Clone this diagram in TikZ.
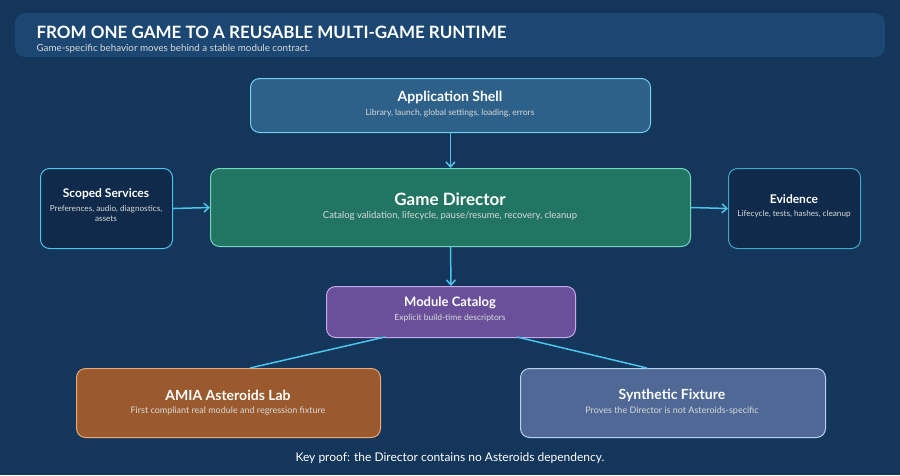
\documentclass[tikz,border=0pt]{standalone}
\usepackage{fontspec}
\setmainfont{Lato}
\usetikzlibrary{arrows.meta}
\definecolor{bg}{HTML}{13365A}
\definecolor{hdr}{HTML}{1B4772}
\definecolor{cy}{HTML}{4FC3EA}
\definecolor{a}{HTML}{2D6189}
\definecolor{dk}{HTML}{0F2A4A}
\definecolor{g}{HTML}{237563}
\definecolor{gl}{HTML}{6FD9C0}
\definecolor{p}{HTML}{6A509A}\definecolor{pl}{HTML}{C8A8E8}
\definecolor{o}{HTML}{9A5A2E}\definecolor{ol}{HTML}{E8A878}
\definecolor{b}{HTML}{4F6896}\definecolor{bl}{HTML}{B8D0F0}
\tikzset{
 box/.style={draw, line width=1pt, rounded corners=9pt, anchor=north west, inner sep=0pt},
 t/.style={text=white, font=\bfseries},
 s/.style={text=white!85!black},
 arr/.style={draw=cy, line width=1.5pt, -{Straight Barb[length=5pt,width=9pt]}},
 ln/.style={draw=cy, line width=1.5pt}
}
\begin{document}
\begin{tikzpicture}[x=1pt,y=-1pt]
\fill[bg] (0,0) rectangle (900,475);
\useasboundingbox (0,0) rectangle (900,475);
\fill[hdr, rounded corners=10pt] (15,13) rectangle (885,57);
\node[anchor=west, text=white, font=\bfseries\fontsize{17}{18}\selectfont] (title) at (33,32) {FROM ONE GAME TO A REUSABLE MULTI-GAME RUNTIME};
\node[anchor=west, s, font=\fontsize{9.8}{11}\selectfont] (sub) at (33,49) {Game-specific behavior moves behind a stable module contract.};

\node[box, fill=a, draw=cy!80!white, minimum width=400pt, minimum height=54pt] (app) at (250,78) {};
\node[t, font=\bfseries\fontsize{14}{15}\selectfont] (appt) at (450,97) {Application Shell};
\node[s, font=\fontsize{8.5}{10}\selectfont] (apps) at (450,113) {Library, launch, global settings, loading, errors};

\node[box, fill=dk, draw=cy, minimum width=132pt, minimum height=80pt] (sc) at (40,168) {};
\node[t, font=\bfseries\fontsize{12}{13}\selectfont] (sct) at (106,194) {Scoped Services};
\node[s, font=\fontsize{8.2}{10}\selectfont, align=center] (scs) at (106,214) {Preferences, audio, diagnostics,\\assets};

\node[box, fill=g, draw=gl, minimum width=480pt, minimum height=78pt] (gd) at (210,168) {};
\node[t, font=\bfseries\fontsize{17}{18}\selectfont] (gdt) at (450,199) {Game Director};
\node[s, font=\fontsize{9.5}{11}\selectfont] (gds) at (450,216) {Catalog validation, lifecycle, pause/resume, recovery, cleanup};

\node[box, fill=dk, draw=cy!85!black, minimum width=132pt, minimum height=80pt] (ev) at (728,168) {};
\node[t, font=\bfseries\fontsize{12}{13}\selectfont] (evt) at (794,199) {Evidence};
\node[s, font=\fontsize{8.2}{10}\selectfont] (evs) at (794,214) {Lifecycle, tests, hashes, cleanup};

\node[box, fill=p, draw=pl, minimum width=249pt, minimum height=51pt] (mc) at (326,286) {};
\node[t, font=\bfseries\fontsize{13}{14}\selectfont] (mct) at (450,303) {Module Catalog};
\node[s, font=\fontsize{8.5}{10}\selectfont] (mcs) at (450,318) {Explicit build-time descriptors};

\node[box, fill=o, draw=ol, minimum width=304pt, minimum height=69pt] (am) at (76,368) {};
\node[t, font=\bfseries\fontsize{14}{15}\selectfont] (amt) at (228,395) {AMIA Asteroids Lab};
\node[s, font=\fontsize{9}{10}\selectfont] (ams) at (228,411) {First compliant real module and regression fixture};

\node[box, fill=b, draw=bl, minimum width=305pt, minimum height=69pt] (sf) at (520,368) {};
\node[t, font=\bfseries\fontsize{14}{15}\selectfont] (sft) at (672,395) {Synthetic Fixture};
\node[s, font=\fontsize{9}{10}\selectfont] (sfs) at (672,411) {Proves the Director is not Asteroids-specific};

\node[text=white, font=\fontsize{12}{13}\selectfont] (foot) at (450,458) {Key proof: the Director contains no Asteroids dependency.};

\draw[arr] (app.south) -- (gd.north);
\draw[arr] (sc.east) -- (gd.west);
\draw[arr] (gd.east) -- (ev.west);
\draw[arr] (gd.south) -- (mc.north);
\coordinate (m1) at (385,337); \coordinate (a1) at (250,368);
\coordinate (m2) at (517,337); \coordinate (s1) at (647,368);
\draw[ln] (m1) -- (a1);
\draw[ln] (m2) -- (s1);
\end{tikzpicture}
\end{document}
